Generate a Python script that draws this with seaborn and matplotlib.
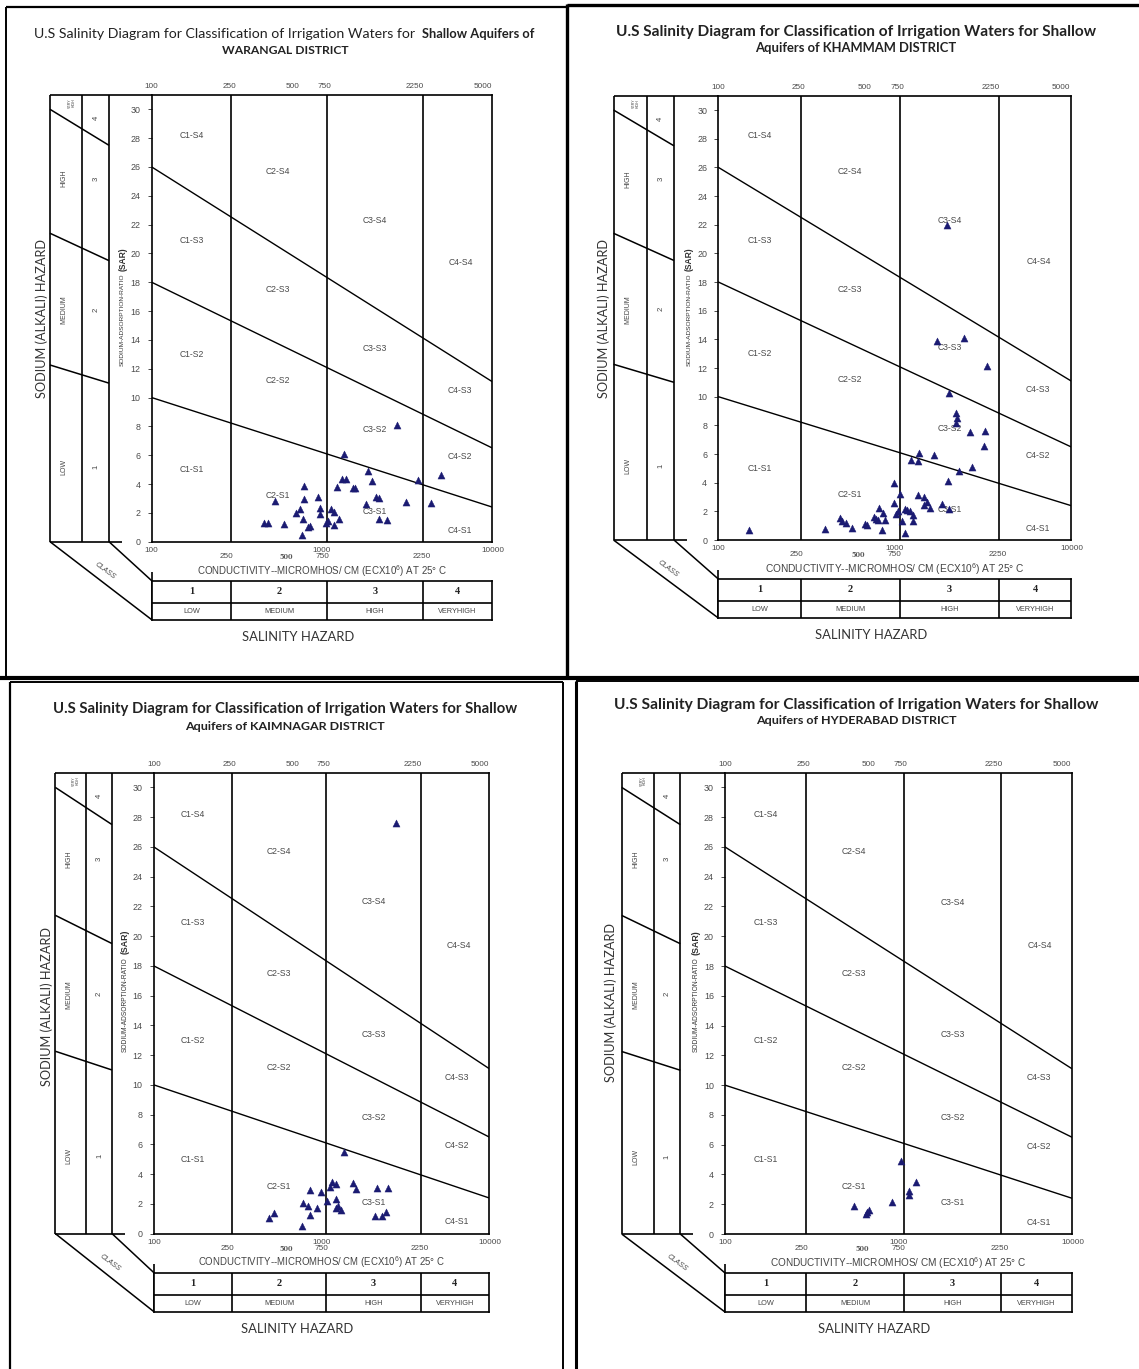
import matplotlib
matplotlib.use("Agg")
import matplotlib.pyplot as plt
from matplotlib.ticker import NullLocator, FixedLocator
import seaborn as sns

sns.set_style("white")
plt.rcParams["font.family"] = ["Liberation Sans", "DejaVu Sans"]
plt.rcParams["mathtext.default"] = "regular"

# ------------------------------------------------------------------
# Sample data: electrical conductivity (micromhos/cm) and SAR
# ------------------------------------------------------------------
warangal_ec = [362, 382, 412, 455, 523, 547, 569, 573, 578, 565, 600, 614, 673,
               689, 695, 744, 755, 785, 809, 809, 864, 841, 885, 908, 933, 1007,
               1031, 1166, 1197, 1254, 1313, 1359, 1355, 1485, 1672, 1855, 2130,
               2483, 2765]
warangal_sar = [1.32, 1.32, 2.84, 1.20, 2.01, 2.29, 1.55, 2.93, 3.86, 0.46, 0.99,
                1.09, 3.12, 2.33, 1.89, 1.27, 1.45, 2.24, 2.06, 1.15, 1.55, 3.81,
                4.32, 6.10, 4.32, 3.74, 3.74, 2.61, 4.92, 4.20, 3.12, 3.00, 1.55,
                1.50, 8.08, 2.75, 4.27, 2.68, 4.64]

khammam_ec = [141, 325, 385, 394, 413, 443, 507, 522, 562, 575, 588, 593, 615, 619,
              633, 703, 705, 718, 735, 751, 768, 791, 797, 815, 834, 846, 865, 865,
              912, 918, 931, 974, 981, 1011, 1045, 1097, 1130, 1191, 1264, 1282,
              1291, 1291, 1402, 1410, 1395, 1444, 1532, 1640, 1676, 1901, 1929, 1959]
khammam_sar = [0.70, 0.74, 1.53, 1.30, 1.16, 0.84, 1.12, 1.07, 1.63, 1.44, 1.40,
               2.23, 0.70, 1.91, 1.40, 3.95, 2.60, 1.81, 2.00, 3.21, 1.35, 0.51,
               2.19, 2.09, 2.05, 5.58, 1.72, 1.35, 5.53, 3.16, 6.05, 2.47, 2.98,
               2.65, 2.23, 5.91, 13.90, 2.51, 21.95, 4.14, 2.14, 10.28, 8.84, 8.49,
               8.19, 4.79, 14.09, 7.53, 5.12, 6.56, 7.63, 12.14]

kaimnagar_ec = [385, 407, 562, 571, 607, 619, 621, 674, 706, 757, 778, 802, 834, 837,
                834, 857, 891, 919, 1019, 1064, 1316, 1358, 1428, 1501, 1530, 1690]
kaimnagar_sar = [1.02, 1.40, 0.50, 2.08, 1.85, 1.24, 2.93, 1.69, 2.80, 2.19, 3.16,
                 3.45, 3.32, 2.33, 1.69, 1.85, 1.58, 5.51, 3.39, 2.98, 1.20, 3.09,
                 1.15, 1.42, 3.09, 27.60]

hyderabad_ec = [430, 490, 497, 505, 654, 729, 795, 795, 861]
hyderabad_sar = [1.86, 1.31, 1.47, 1.61, 2.17, 4.89, 2.60, 2.87, 3.51]

# Salinity class breaks (micromhos/cm) and sodium hazard boundaries
class_breaks = [250, 750, 2250]
boundary_ec = [100, 5000]
s1_s2 = [10.0, 2.4]
s2_s3 = [18.0, 6.5]
s3_s4 = [26.0, 11.1]
# continuation of the boundaries through the sodium-class strip (left, right)
strip_bounds = [(30.0, 27.5), (21.4, 19.5), (12.26, 11.0)]

salinity_class = ["1", "2", "3", "4"]
salinity_names = ["LOW", "MEDIUM", "HIGH", "VERYHIGH"]
sodium_names = ["LOW", "MEDIUM", "HIGH"]
sodium_class = ["1", "2", "3", "4"]

top_labels = ["100", "250", "500", "750", "2250", "5000"]
bottom_labels_hi = ["100", "1000", "10000"]
bottom_labels_lo = ["250", "500", "750", "2250"]

zone_names = ["C1-S4", "C2-S4", "C3-S4", "C4-S4",
              "C1-S3", "C2-S3", "C3-S3", "C4-S3",
              "C1-S2", "C2-S2", "C3-S2", "C4-S2",
              "C1-S1", "C2-S1", "C3-S1", "C4-S1"]

districts = ["WARANGAL", "KHAMMAM", "KAIMNAGAR", "HYDERABAD"]

# ------------------------------------------------------------------
# Layout
# ------------------------------------------------------------------
W, H, DPI = 1139, 1369, 100
top_pos = [100, 243, 505, 727, 2058, 4476]
bot_hi_pos = [100, 707, 5057]
bot_lo_pos = [237, 471, 707, 2222]
zone_pos = [(158, 28.2), (428, 25.7), (1300, 22.3), (3500, 19.4),
            (158, 20.9), (428, 17.5), (1300, 13.4), (3450, 10.5),
            (158, 13.0), (428, 11.2), (1300, 7.8), (3450, 5.9),
            (158, 5.0), (428, 3.2), (1300, 2.1), (3450, 0.8)]
col_centers = [158, 433, 1299, 3354]

panels = [
    dict(ax=(151.7, 492.3, 541.7, 109.3), strip=(50.0, 109.0),
         t1=33.8, t2=50.3, tc=285, w1=500, w2=126.5, sod=(41.8, 318.7)),
    dict(ax=(718.3, 1071.0, 540.0, 110.0), strip=(613.5, 674.0),
         t1=31.7, t2=47.7, tc=856, w1=481, w2=202, sod=(603.4, 318.7)),
    dict(ax=(153.8, 489.0, 1233.6, 787.4), strip=(55.3, 112.0),
         t1=709.5, t2=726.0, tc=285, w1=462, w2=200, sod=(46.5, 1006.0)),
    dict(ax=(725.0, 1072.0, 1234.0, 787.4), strip=(621.7, 680.3),
         t1=705.0, t2=720.6, tc=856, w1=483, w2=200, sod=(610.8, 1002.6)),
]
datasets = [(warangal_ec, warangal_sar), (khammam_ec, khammam_sar),
            (kaimnagar_ec, kaimnagar_sar), (hyderabad_ec, hyderabad_sar)]

LINE = "black"
TXT = "#3a3a3a"
MARK = "#1b1b72"

fig = plt.figure(figsize=(W / DPI, H / DPI), dpi=DPI)
fig.patch.set_facecolor("white")
ov = fig.add_axes([0, 0, 1, 1], zorder=0)
ov.set_xlim(0, W)
ov.set_ylim(H, 0)
ov.axis("off")
renderer = fig.canvas.get_renderer()


def fbox(x0, x1, ytop, ybot):
    return [x0 / W, 1 - ybot / H, (x1 - x0) / W, (ybot - ytop) / H]


def fit(t, target, along="x"):
    bb = t.get_window_extent(renderer=renderer)
    cur = bb.width if along == "x" else bb.height
    if cur > 0:
        t.set_fontsize(t.get_fontsize() * target / cur)


def seg(x0, y0, x1, y1, lw=1.1, color=LINE):
    ov.plot([x0, x1], [y0, y1], color=color, lw=lw, solid_capstyle="butt")


# panel frames
seg(6, 7, 567, 7, lw=1.6)
seg(6, 7, 6, 676, lw=1.4)
seg(567, 4, 567, 677, lw=2.4)
seg(567, 5, W, 5, lw=2.4)
seg(0, 677.5, W, 677.5, lw=3.0)
seg(10, 682, 563, 682, lw=1.4)
seg(10, 682, 10, H, lw=1.6)
seg(563, 682, 563, H, lw=1.4)
seg(576, 681, W, 681, lw=1.4)
seg(576, 681, 576, H, lw=2.2)


for idx, (p, (ec, sar)) in enumerate(zip(panels, datasets)):
    axL, axR, y0, y30 = p["ax"]
    ppu = (y0 - y30) / 30.0
    ytop = y0 - 31 * ppu
    L, R = p["strip"]
    D = L + 0.55 * (R - L)
    xc = (axL + axR) / 2

    def sy(v):
        return y0 - v * ppu

    # ---------------- main diagram ----------------
    ax = fig.add_axes(fbox(axL, axR, ytop, y0), zorder=2)
    ax.set_facecolor("none")
    ax.set_xscale("log")
    ax.set_xlim(100, 5000)
    ax.set_ylim(0, 31)
    for b in class_breaks:
        ax.axvline(b, color=LINE, lw=1.2, zorder=1)
    for bnd in (s1_s2, s2_s3, s3_s4):
        sns.lineplot(x=boundary_ec, y=bnd, ax=ax, color=LINE, lw=1.0, zorder=1)
    sns.scatterplot(x=ec, y=sar, ax=ax, marker="^", s=26, color=MARK,
                    edgecolor=MARK, linewidth=0.3, zorder=4, legend=False)
    for name, (zx, zy) in zip(zone_names, zone_pos):
        ax.text(zx, zy, name, ha="center", va="center", fontsize=6.2,
                color="#4a4a4a", zorder=3)

    ax.xaxis.set_major_locator(NullLocator())
    ax.xaxis.set_minor_locator(NullLocator())
    ax.yaxis.set_major_locator(FixedLocator(range(0, 31, 2)))
    ax.tick_params(axis="y", length=3.0, width=0.7, pad=5, labelsize=6.4,
                   labelcolor="#4a4a4a", color="#4a4a4a", left=True)
    ax.set_xlabel("")
    ax.set_ylabel("")
    for sp in ax.spines.values():
        sp.set_color(LINE)
        sp.set_linewidth(1.2)

    for lab, pos in zip(top_labels, top_pos):
        ax.annotate(lab, (pos, 1), xycoords=("data", "axes fraction"),
                    xytext=(0, 8), textcoords="offset pixels", ha="center",
                    va="center", fontsize=5.9, color="#4a4a4a")
    for lab, pos in zip(bottom_labels_hi, bot_hi_pos):
        ax.annotate(lab, (pos, 0), xycoords=("data", "axes fraction"),
                    xytext=(0, -9), textcoords="offset pixels", ha="center",
                    va="center", fontsize=5.9, color="#4a4a4a")
    for lab, pos in zip(bottom_labels_lo, bot_lo_pos):
        small = lab == "500"
        ax.annotate(lab, (pos, 0), xycoords=("data", "axes fraction"),
                    xytext=(0, -15), textcoords="offset pixels", ha="center",
                    va="center", fontsize=4.8 if small else 5.9,
                    fontweight="bold" if small else "normal",
                    family=["DejaVu Serif"] if small else None,
                    color="#5a5a5a" if small else "#4a4a4a")
    if ax.get_legend() is not None:
        ax.get_legend().remove()

    # ---------------- salinity class table ----------------
    tt, tm, tb = y0 + 39, y0 + 61, y0 + 78
    tax = fig.add_axes(fbox(axL, axR, tt, tb), zorder=2)
    tax.set_xscale("log")
    tax.set_xlim(100, 5000)
    tax.set_ylim(0, 1)
    midf = (tb - tm) / (tb - tt)
    tax.axhline(midf, color=LINE, lw=1.2)
    for b in class_breaks:
        tax.axvline(b, color=LINE, lw=1.2)
    for c, num, nm in zip(col_centers, salinity_class, salinity_names):
        tax.text(c, (1 + midf) / 2, num, ha="center", va="center",
                 fontsize=7.5, fontweight="bold", color="#222",
                 family=["Liberation Serif", "DejaVu Serif"])
        tax.text(c, midf / 2, nm, ha="center", va="center", fontsize=5.3,
                 color="#444")
    tax.set_xticks([])
    tax.set_yticks([])
    tax.xaxis.set_minor_locator(NullLocator())
    for sp in tax.spines.values():
        sp.set_color(LINE)
        sp.set_linewidth(1.2)

    t = ov.text(xc, y0 + 29, "CONDUCTIVITY--MICROMHOS/ CM (ECX10$^{6}$) AT 25\u00b0 C",
                ha="center", va="center", fontsize=7, color="#444")
    fit(t, 252 * (axR - axL) / 340.6)
    t = ov.text(xc - 24, y0 + 95, "SALINITY HAZARD", ha="center", va="center",
                fontsize=9, color="#333", family=["Lato", "DejaVu Sans"])
    fit(t, 112)

    # ---------------- sodium class strip ----------------
    seg(L, ytop, axL, ytop, lw=1.2)
    seg(L, y0, R + 13, y0, lw=1.2)
    for xv in (L, D, R):
        seg(xv, ytop, xv, y0, lw=1.2)
    for a, b in strip_bounds:
        seg(L, sy(a), R, sy(b), lw=1.1)
    for nm, v in zip(sodium_names, (5.2, 16.1, 25.2)):
        ov.text(L + 0.24 * (R - L), sy(v), nm, rotation=90, ha="center",
                va="center", fontsize=5.0, color="#444")
    ov.text(L + 0.37 * (R - L), sy(30.45), "VERY\nHIGH", rotation=90,
            ha="center", va="center", fontsize=2.6, color="#444",
            linespacing=0.9)
    for num, v in zip(sodium_class, (5.2, 16.1, 25.2, 29.4)):
        ov.text(L + 0.78 * (R - L), sy(v), num, rotation=90, ha="center",
                va="center", fontsize=5.5, color="#444")

    # oblique base of the class block
    seg(L, y0, axL, tb, lw=1.1)
    seg(R, y0, axL, tt, lw=1.1)
    seg(axL, tt - 9, axL, tb, lw=1.2)
    ov.text(L + 55, y0 + 29, "CLASS", rotation=-36.5, ha="center",
            va="center", fontsize=5.2, color="#444", fontstyle="italic")

    # axis titles
    sx, sc = p["sod"]
    t = ov.text(sx, sc, "SODIUM (ALKALI) HAZARD", rotation=90, ha="center",
                va="center", fontsize=10, color="#333",
                family=["Lato", "DejaVu Sans"])
    fit(t, 158, along="y")
    t = ov.text(axL - 29, sy(15.4), "SODIUM-ADSORPTION-RATIO", rotation=90,
                ha="center", va="center", fontsize=5, color="#333")
    fit(t, 94 * ppu / 14.41, along="y")
    t = ov.text(axL - 29, sy(19.6), "(SAR)", rotation=90, ha="center",
                va="center", fontsize=6, color="#333", fontweight="bold")
    fit(t, 24 * ppu / 14.41, along="y")

    # ---------------- titles ----------------
    tf = ["Lato", "DejaVu Sans"]
    if idx == 0:
        t = ov.text(34.5, p["t1"], "U.S Salinity Diagram for Classification of Irrigation Waters for",
                    ha="left", va="center", fontsize=9, color="#222", family=tf)
        fit(t, 384)
        t = ov.text(421.7, p["t1"], "Shallow Aquifers of", ha="left", va="center",
                    fontsize=9, color="#222", family=tf, fontweight="bold")
        fit(t, 112)
        t = ov.text(p["tc"], p["t2"], districts[idx] + " DISTRICT", ha="center",
                    va="center", fontsize=8, color="#222", family=tf,
                    fontweight="bold")
        fit(t, p["w2"])
    else:
        t = ov.text(p["tc"], p["t1"],
                    "U.S Salinity Diagram for Classification of Irrigation Waters for Shallow",
                    ha="center", va="center", fontsize=9, color="#222",
                    family=tf, fontweight="bold")
        fit(t, p["w1"])
        t = ov.text(p["tc"], p["t2"], "Aquifers of " + districts[idx] + " DISTRICT",
                    ha="center", va="center", fontsize=8, color="#222",
                    family=tf, fontweight="bold")
        fit(t, p["w2"])

fig.savefig("out.png", dpi=DPI, facecolor="white")
